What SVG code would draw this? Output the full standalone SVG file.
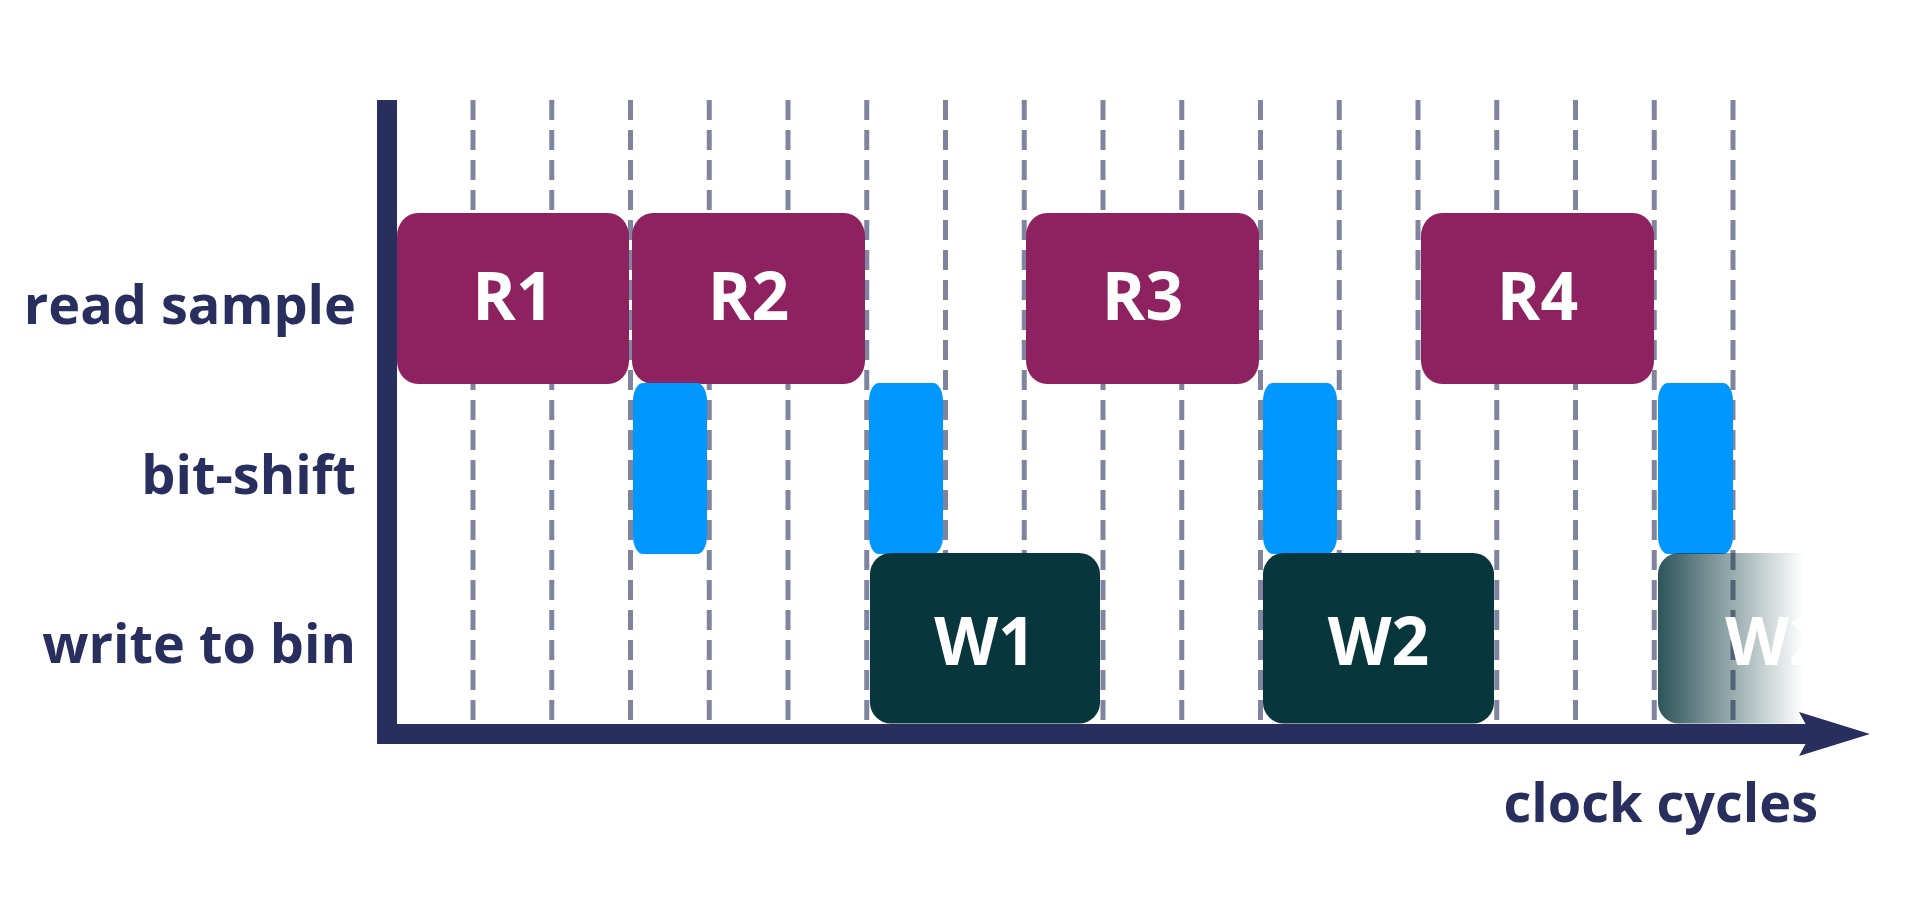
<svg xmlns="http://www.w3.org/2000/svg" width="1920" height="900" viewBox="0 0 1920 900">
<style>
.grid line{stroke:#80859f;stroke-width:5;stroke-dasharray:20 10}
.rd{fill:#8e2260}
.bs{fill:#0098ff}
.wr{fill:#08363d}
.lbl{font-family:"Open Sans","Noto Sans","DejaVu Sans",sans-serif;font-weight:700;font-size:54px;fill:#282e5e}
.box{font-family:"Open Sans","Noto Sans","DejaVu Sans",sans-serif;font-weight:700;font-size:66px;fill:#ffffff;text-anchor:middle}
.axis{fill:#282e5e}
</style>
<defs>
<linearGradient id="fade" gradientUnits="userSpaceOnUse" x1="1658" y1="0" x2="1803" y2="0">
<stop offset="0" stop-color="#08363d" stop-opacity="0.85"/>
<stop offset="1" stop-color="#08363d" stop-opacity="0"/>
</linearGradient>
</defs>
<rect width="1920" height="900" fill="#ffffff"/>
<g class="grid">
<line x1="473" y1="100" x2="473" y2="722"/>
<line x1="551.75" y1="100" x2="551.75" y2="722"/>
<line x1="630.5" y1="100" x2="630.5" y2="722"/>
<line x1="709.25" y1="100" x2="709.25" y2="722"/>
<line x1="788" y1="100" x2="788" y2="722"/>
<line x1="866.75" y1="100" x2="866.75" y2="722"/>
<line x1="945.5" y1="100" x2="945.5" y2="722"/>
<line x1="1024.25" y1="100" x2="1024.25" y2="722"/>
<line x1="1103" y1="100" x2="1103" y2="722"/>
<line x1="1181.75" y1="100" x2="1181.75" y2="722"/>
<line x1="1260.5" y1="100" x2="1260.5" y2="722"/>
<line x1="1339.25" y1="100" x2="1339.25" y2="722"/>
<line x1="1418" y1="100" x2="1418" y2="722"/>
<line x1="1496.75" y1="100" x2="1496.75" y2="722"/>
<line x1="1575.5" y1="100" x2="1575.5" y2="722"/>
<line x1="1654.25" y1="100" x2="1654.25" y2="722"/>
<line x1="1733" y1="100" x2="1733" y2="722"/>
</g>
<g id="labels">
<text class="lbl" x="356" y="324" text-anchor="end">read sample</text>
<text class="lbl" x="356" y="494" text-anchor="end">bit-shift</text>
<text class="lbl" x="356" y="663" text-anchor="end">write to bin</text>
</g>
<g id="R1"><rect class="rd" x="397" y="213" width="232" height="171" rx="21" ry="23"/><text class="box" x="513" y="320">R1</text></g>
<g id="R2"><rect class="rd" x="632" y="213" width="233" height="171" rx="21" ry="23"/><text class="box" x="748.5" y="320">R2</text></g>
<g id="R3"><rect class="rd" x="1026" y="213" width="233" height="171" rx="21" ry="23"/><text class="box" x="1142.5" y="320">R3</text></g>
<g id="R4"><rect class="rd" x="1421" y="213" width="233" height="171" rx="21" ry="23"/><text class="box" x="1537.5" y="320">R4</text></g>
<g id="B1"><rect class="bs" x="633" y="383" width="74" height="171" rx="10" ry="18"/></g>
<g id="B2"><rect class="bs" x="869" y="383" width="74" height="171" rx="10" ry="18"/></g>
<g id="B3"><rect class="bs" x="1263" y="383" width="74" height="171" rx="10" ry="18"/></g>
<g id="B4"><rect class="bs" x="1658" y="383" width="75" height="171" rx="10" ry="18"/></g>
<g id="W1"><rect class="wr" x="870" y="553" width="230" height="170.5" rx="21" ry="21"/><text class="box" x="985" y="665">W1</text></g>
<g id="W2"><rect class="wr" x="1263" y="553" width="231" height="170.5" rx="21" ry="21"/><text class="box" x="1378.5" y="665">W2</text></g>
<g id="W3"><rect x="1658" y="553" width="232" height="170.5" rx="21" ry="21" fill="url(#fade)"/><text class="box" x="1776" y="665">W2</text></g>
<g id="axes">
<rect class="axis" x="377" y="100" width="20" height="644"/>
<rect class="axis" x="377" y="724" width="1436" height="20"/>
<polygon class="axis" points="1799,712 1870,734 1799,756 1811,734"/>
<text class="lbl" x="1818" y="822" text-anchor="end">clock cycles</text>
</g>
</svg>
